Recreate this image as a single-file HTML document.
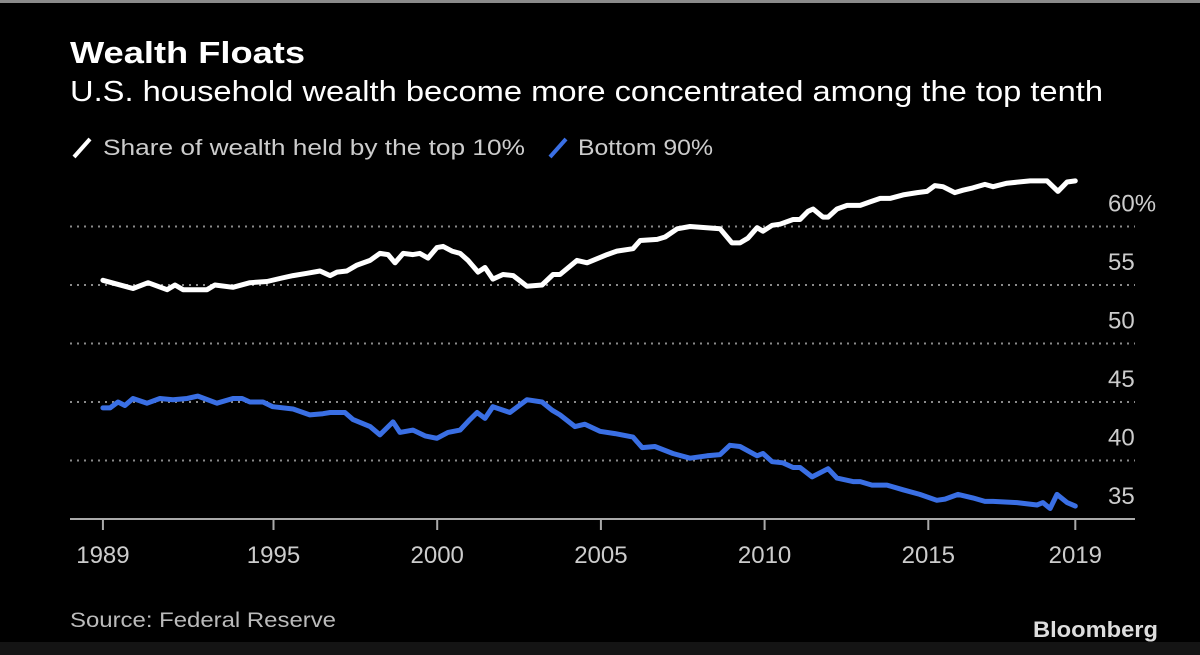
<!DOCTYPE html>
<html><head><meta charset="utf-8"><style>
html,body{margin:0;padding:0;background:#000;}
svg{display:block;font-family:"Liberation Sans",sans-serif;}
</style></head><body>
<svg id="chart" width="1200" height="655" viewBox="0 0 1200 655" xmlns="http://www.w3.org/2000/svg">
<rect x="0" y="0" width="1200" height="655" fill="#000"/>
<rect x="0" y="0" width="1200" height="3" fill="#8a8a8a"/>
<rect x="0" y="642" width="1200" height="13" fill="#141414"/>
<text x="70" y="63" fill="#fff" font-size="31" font-weight="bold" textLength="235" lengthAdjust="spacingAndGlyphs">Wealth Floats</text>
<text x="70" y="101" fill="#fff" font-size="29" textLength="1033" lengthAdjust="spacingAndGlyphs">U.S. household wealth become more concentrated among the top tenth</text>
<g>
<line x1="74" y1="157" x2="90" y2="139" stroke="#fff" stroke-width="4"/>
<text x="103" y="155" fill="#ccc" font-size="22" textLength="422" lengthAdjust="spacingAndGlyphs">Share of wealth held by the top 10%</text>
<line x1="550" y1="157" x2="566" y2="139" stroke="#3a6fe4" stroke-width="4"/>
<text x="578" y="155" fill="#ccc" font-size="22" textLength="135" lengthAdjust="spacingAndGlyphs">Bottom 90%</text>
</g>
<g id="grid"></g>
<g id="xaxis"></g>
<g id="series"></g>
<text x="70" y="627" fill="#bbb" font-size="21" textLength="266" lengthAdjust="spacingAndGlyphs">Source: Federal Reserve</text>
<text x="1033" y="637" fill="#ddd" font-size="22" font-weight="bold" textLength="125" lengthAdjust="spacingAndGlyphs">Bloomberg</text>
</svg>
<script>
const topYears=[1989.79,1990.71,1991.17,1991.75,1991.99,1992.24,1992.97,1993.21,1993.76,1994.28,1994.80,1995.26,1995.60,1996.02,1996.42,1996.73,1996.94,1997.24,1997.55,1997.95,1998.25,1998.50,1998.71,1998.96,1999.26,1999.47,1999.72,1999.99,2000.18,2000.45,2000.70,2000.94,2001.25,2001.46,2001.70,2002.01,2002.32,2002.74,2003.20,2003.54,2003.75,2004.27,2004.58,2005.19,2005.49,2005.98,2006.20,2006.72,2006.96,2007.33,2007.72,2008.64,2009.00,2009.25,2009.49,2009.77,2009.95,2010.23,2010.47,2010.87,2011.08,2011.33,2011.48,2011.78,2011.94,2012.21,2012.52,2012.92,2013.22,2013.53,2013.83,2014.23,2014.66,2014.96,2015.20,2015.45,2015.81,2016.06,2016.36,2016.73,2016.98,2017.40,2018.11,2018.63,2018.96,2019.24,2019.49];
const topValues=[55.4,54.7,55.2,54.6,55.0,54.6,54.6,55.0,54.8,55.2,55.3,55.6,55.8,56.0,56.2,55.8,56.1,56.2,56.7,57.1,57.7,57.6,56.9,57.7,57.6,57.7,57.3,58.2,58.3,57.9,57.7,57.1,56.1,56.5,55.5,55.9,55.8,54.9,55.0,55.9,55.9,57.1,56.9,57.6,57.9,58.1,58.8,58.9,59.1,59.8,60.0,59.8,58.6,58.6,59.0,59.9,59.6,60.1,60.2,60.6,60.6,61.3,61.5,60.8,60.8,61.5,61.8,61.8,62.1,62.4,62.4,62.7,62.9,63.0,63.5,63.4,62.9,63.1,63.3,63.6,63.4,63.7,63.9,63.9,63.0,63.8,63.9];
const bottomYears=[1989.79,1990.01,1990.25,1990.46,1990.71,1991.14,1991.53,1991.93,1992.36,1992.69,1993.27,1993.76,1994.04,1994.28,1994.68,1994.98,1995.60,1996.11,1996.51,1996.73,1997.18,1997.43,1997.95,1998.25,1998.65,1998.86,1999.26,1999.63,1999.99,2000.33,2000.70,2001.00,2001.22,2001.46,2001.70,2002.22,2002.74,2003.20,2003.51,2003.75,2004.21,2004.51,2004.97,2005.43,2005.98,2006.26,2006.65,2007.20,2007.72,2008.24,2008.64,2008.94,2009.25,2009.77,2009.95,2010.23,2010.56,2010.87,2011.08,2011.45,2011.94,2012.21,2012.70,2012.92,2013.28,2013.74,2014.23,2014.74,2015.26,2015.51,2015.91,2016.36,2016.73,2016.98,2017.71,2018.32,2018.50,2018.72,2018.93,2019.24,2019.49];
const bottomValues=[44.5,44.5,45.0,44.7,45.3,44.9,45.3,45.2,45.3,45.5,44.9,45.3,45.3,45.0,45.0,44.6,44.4,43.9,44.0,44.1,44.1,43.5,42.9,42.2,43.3,42.4,42.6,42.1,41.9,42.4,42.6,43.5,44.1,43.6,44.6,44.1,45.2,45.0,44.3,43.9,42.9,43.1,42.5,42.3,42.0,41.1,41.2,40.6,40.2,40.4,40.5,41.3,41.2,40.4,40.6,39.9,39.8,39.4,39.4,38.6,39.3,38.5,38.2,38.2,37.9,37.9,37.5,37.1,36.6,36.7,37.1,36.8,36.5,36.5,36.4,36.2,36.4,35.9,37.1,36.4,36.1];
const yTickValues=[35,40,45,50,55,60];
const yTickLabels=["35","40","45","50","55","60%"];
const xTickValues=[1989.79,1995,2000,2005,2010,2015,2019.49];
const xTickLabels=["1989","1995","2000","2005","2010","2015","2019"];

const NS="http://www.w3.org/2000/svg";
function xScale(t){return 273.5+(t-1995)*32.74;}
function yScale(v){return 519-(v-35)*11.7;}
function mk(tag,attrs,parent){const e=document.createElementNS(NS,tag);for(const k in attrs)e.setAttribute(k,attrs[k]);parent.appendChild(e);return e;}

const grid=document.getElementById('grid');
yTickValues.forEach((v,i)=>{
  if(v!==35){
    const l=mk('line',{x1:70,x2:1135,y1:yScale(v),y2:yScale(v),stroke:'#8a8a8a','stroke-width':2,'stroke-dasharray':'2 5'},grid);
    
    
  }
  const t=mk('text',{x:1108,y:yScale(v)-15,fill:'#ccc','font-size':24},grid);
  t.textContent=yTickLabels[i];
  
  
});

const xa=document.getElementById('xaxis');
const axis=mk('line',{x1:70,x2:1135,y1:519,y2:519,stroke:'#aaa','stroke-width':2},xa);


xTickValues.forEach((v,i)=>{
  const x=xScale(v);
  const tk=mk('line',{x1:x,x2:x,y1:519,y2:530,stroke:'#aaa','stroke-width':2},xa);
  
  
  const t=mk('text',{x:x,y:563,fill:'#ccc','font-size':24,'text-anchor':'middle'},xa);
  t.textContent=xTickLabels[i];
  
  
});

const series=document.getElementById('series');
function path(xs,vs){return xs.map((t,i)=>(i?'L':'M')+xScale(t).toFixed(1)+','+yScale(vs[i]).toFixed(1)).join(' ');}
const p1=mk('path',{d:path(topYears,topValues),fill:'none',stroke:'#fff','stroke-width':5,'stroke-linejoin':'round','stroke-linecap':'round'},series);


const p2=mk('path',{d:path(bottomYears,bottomValues),fill:'none',stroke:'#3a6fe4','stroke-width':5,'stroke-linejoin':'round','stroke-linecap':'round'},series);


</script>
</body></html>
